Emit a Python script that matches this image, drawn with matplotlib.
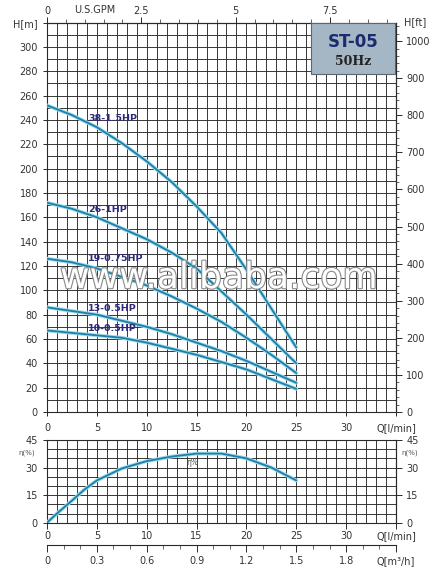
import numpy as np
import matplotlib
matplotlib.use("Agg")
import matplotlib.pyplot as plt
import matplotlib.patheffects as pe
from matplotlib.patches import Rectangle

# flow points [l/min]
flow = [0, 2.5, 5, 7.5, 10, 12.5, 15, 17.5, 20, 22.5, 25]

# head [m] per model
head_38 = [252, 244, 234, 221, 206, 189, 169, 147, 117, 85, 53]
head_26 = [172, 167, 160, 151, 142, 131, 118, 99, 80, 60, 40]
head_19 = [126, 123, 118, 111, 104, 95, 85, 74, 61, 47, 32]
head_13 = [86, 83, 80, 75, 70, 64, 57, 50, 42, 33, 24]
head_10 = [67, 65, 63, 61, 57, 52, 47, 41, 35, 27, 19]
models = ["38-1.5HP", "26-1HP", "19-0.75HP", "13-0.5HP", "10-0.5HP"]
label_h = [241, 166, 126, 85, 69]

# efficiency curve
eff_flow = [0, 1, 2.5, 3.75, 5, 7.5, 10, 12.5, 15, 17.5, 20, 22.5, 25]
eff = [0, 5, 12, 18, 23, 29.5, 33.5, 36, 37.6, 37.6, 35, 30, 23]

W, H = 437, 572
fig = plt.figure(figsize=(W / 100, H / 100), dpi=100)
fig.patch.set_facecolor("white")

TXT = "#333333"
GRID = "#2a2a2a"
CURVE = "#1d7fa8"
GLOW = "#9fdcec"
NAVY = "#2e2a78"
FS = 7


def fx(px):
    return px / W


def fy(py):
    return 1 - py / H


def draw_curve(ax, x, y):
    ax.plot(x, y, color=GLOW, lw=2.7, solid_capstyle="round", zorder=3)
    ax.plot(x, y, color=CURVE, lw=1.3, solid_capstyle="round", zorder=4)


def style_grid(ax):
    ax.grid(True, which="both", color=GRID, lw=0.65)
    ax.set_axisbelow(True)
    for s in ax.spines.values():
        s.set_color(GRID)
        s.set_linewidth(0.8)
    ax.tick_params(which="minor", length=0)
    ax.tick_params(which="major", labelsize=FS, labelcolor=TXT, color=GRID, length=3, width=0.7)


# ---------------- top chart: H-Q ----------------
ax = fig.add_axes([fx(47), fy(412), fx(396) - fx(47), (412 - 22.6) / H])
ax.set_xlim(0, 35)
ax.set_ylim(0, 320)
ax.set_xticks(np.arange(0, 36, 5))
ax.set_xticklabels(["0", "5", "10", "15", "20", "25", "30", "Q[l/min]"])
ax.set_xticks(np.arange(0, 36, 1), minor=True)
ax.set_yticks(np.arange(0, 321, 20))
ax.set_yticklabels([str(v) if v <= 300 else "" for v in range(0, 321, 20)])
ax.set_yticks(np.arange(0, 321, 10), minor=True)
style_grid(ax)
ax.tick_params(axis="x", which="major", length=3, pad=5)

for hs, name, lh in zip([head_38, head_26, head_19, head_13, head_10], models, label_h):
    draw_curve(ax, flow, hs)
    ax.text(4.1, lh, name, color=NAVY, fontsize=6.8, fontweight="bold",
            ha="left", va="center", zorder=6)

# right axis in feet
sec = ax.secondary_yaxis("right", functions=(lambda m: m * 3.2808, lambda f: f / 3.2808))
sec.set_yticks(np.arange(0, 1001, 100))
sec.yaxis.set_minor_locator(matplotlib.ticker.FixedLocator(np.arange(0, 1041, 20)))
sec.tick_params(which="major", labelsize=FS, labelcolor=TXT, length=4, width=0.7, color=GRID)
sec.tick_params(which="minor", length=2, width=0.5, color=GRID)
sec.spines["right"].set_color(GRID)

# top axis in US GPM
top = ax.secondary_xaxis("top", functions=(lambda q: q / 3.785, lambda g: g * 3.785))
top.set_xticks([0, 2.5, 5, 7.5])
top.set_xticklabels(["0", "2.5", "5", "7.5"])
top.xaxis.set_minor_locator(matplotlib.ticker.FixedLocator(np.arange(0, 9.3, 0.5)))
top.tick_params(which="major", labelsize=FS, labelcolor=TXT, length=4, width=0.7, color=GRID, pad=1)
top.tick_params(which="minor", length=3, width=0.5, color=GRID)
top.spines["top"].set_color(GRID)

# model box
ax.add_patch(Rectangle((26.5, 278), 8.4, 42, facecolor="#a5b6c4", edgecolor="#5a6670",
                       lw=0.8, zorder=7))
ax.text(30.7, 304, "ST-05", color="#1c2a6e", fontsize=12, fontweight="bold",
        ha="center", va="center", zorder=8)
ax.text(30.7, 288, "50Hz", color="#222222", fontsize=9, fontweight="bold",
        family="DejaVu Serif", ha="center", va="center", zorder=8)

# watermark
ax.text(17.2, 110, "www.alibaba.com", fontsize=26, color="white", ha="center", va="center",
        zorder=5, path_effects=[pe.withStroke(linewidth=1.6, foreground="#8a8a8a")])

fig.text(fx(25), fy(24), "H[m]", fontsize=FS, color=TXT, ha="center", va="center")
fig.text(fx(415), fy(22), "H[ft]", fontsize=FS, color=TXT, ha="center", va="center")
fig.text(fx(95), fy(10), "U.S.GPM", fontsize=FS, color=TXT, ha="center", va="center")

# ---------------- bottom chart: efficiency ----------------
bx = fig.add_axes([fx(47), fy(522.7), fx(396) - fx(47), (522.7 - 440) / H])
bx.set_xlim(0, 35)
bx.set_ylim(0, 45)
bx.set_xticks(np.arange(0, 36, 5))
bx.set_xticklabels(["0", "5", "10", "15", "20", "25", "30", "Q[l/min]"])
bx.set_xticks(np.arange(0, 36, 1), minor=True)
bx.set_yticks([0, 15, 30, 45])
bx.set_yticks(np.arange(0, 46, 5), minor=True)
style_grid(bx)
bx.tick_params(axis="x", which="major", length=4, pad=2)
draw_curve(bx, eff_flow, eff)
bx.text(14.6, 32.5, "η%", fontsize=5.5, color="#555555", ha="center", va="center", zorder=6)

bsec = bx.secondary_yaxis("right")
bsec.set_yticks([0, 15, 30, 45])
bsec.tick_params(labelsize=FS, labelcolor=TXT, length=4, width=0.7, color=GRID)
bsec.spines["right"].set_color(GRID)

fig.text(fx(27), fy(453), "η(%)", fontsize=5, color="#555555", ha="center", va="center")
fig.text(fx(410), fy(453), "η(%)", fontsize=5, color="#555555", ha="center", va="center")

# m3/h scale
mx = fig.add_axes([fx(47), fy(545), fx(396) - fx(47), 0.001])
mx.set_xlim(0, 35 * 0.06)
mx.set_ylim(0, 1)
mx.set_yticks([])
for s in ["top", "left", "right"]:
    mx.spines[s].set_visible(False)
mx.spines["bottom"].set_color(GRID)
mx.spines["bottom"].set_linewidth(0.8)
mx.set_xticks([0, 0.3, 0.6, 0.9, 1.2, 1.5, 1.8, 2.1])
mx.set_xticklabels(["0", "0.3", "0.6", "0.9", "1.2", "1.5", "1.8", "Q[m³/h]"])
mx.xaxis.set_minor_locator(matplotlib.ticker.FixedLocator(np.arange(0, 2.11, 0.1)))
mx.tick_params(which="major", direction="out", length=5, width=0.7, color=GRID,
               labelsize=FS, labelcolor=TXT, pad=3)
mx.tick_params(which="minor", direction="out", length=3, width=0.5, color=GRID)
mx.patch.set_visible(False)

fig.savefig("out.png", dpi=100, facecolor="white")
